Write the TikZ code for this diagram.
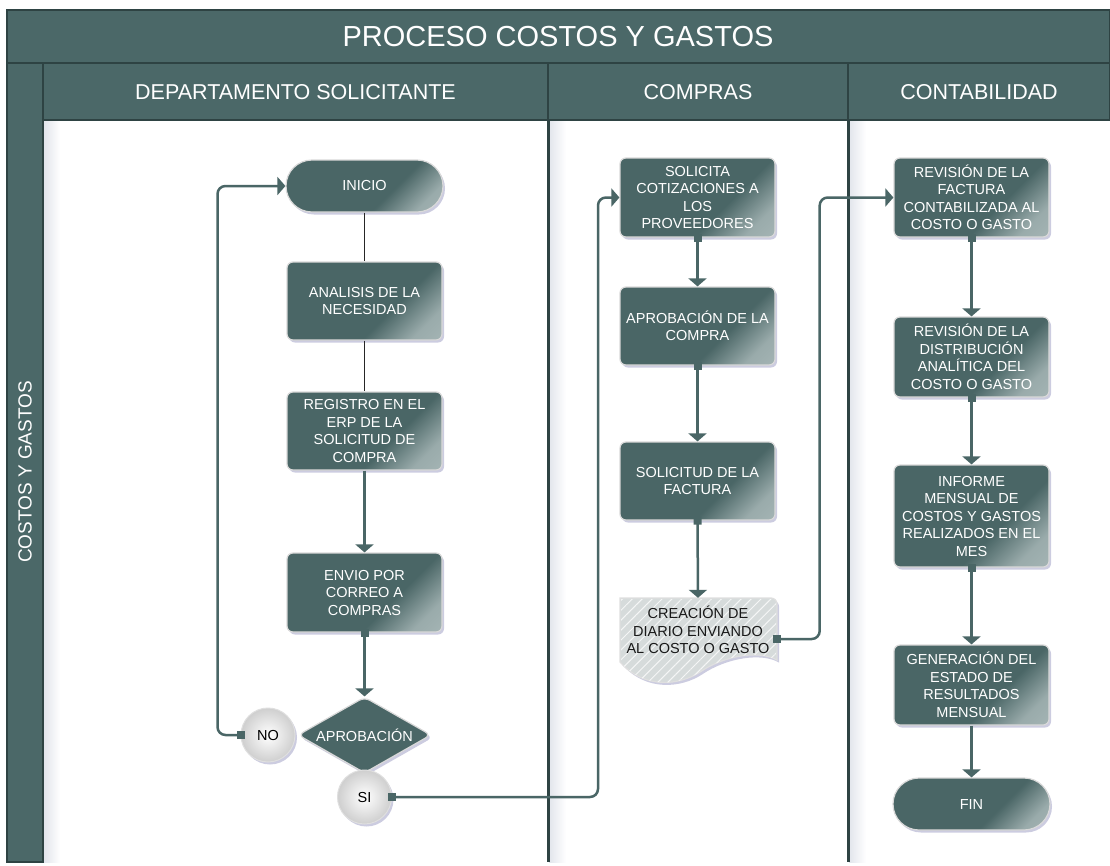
\documentclass[tikz,border=0pt]{standalone}
\usepackage{fontspec}
\setmainfont{Liberation Sans}
\usetikzlibrary{arrows.meta,shapes.geometric,shadows,patterns.meta}
\definecolor{tealc}{HTML}{4A6666}
\definecolor{tealhdr}{HTML}{4B6868}
\definecolor{darkb}{HTML}{2E4343}
\definecolor{lightc}{HTML}{B4C2C2}
\definecolor{docfill}{HTML}{D6DBDB}
\definecolor{lanesh}{HTML}{E2E5EC}
\pgfdeclareverticalshading{boxsh}{100bp}{color(0bp)=(lightc); color(24bp)=(lightc!75!tealc); color(39bp)=(tealc); color(100bp)=(tealc)}
\tikzset{
  hdrline/.style={draw=darkb, line width=1.5pt},
  hdrtext/.style={text=white, font=\fontsize{21.5}{25}\selectfont},
  softshadow/.style={drop shadow={shadow xshift=2pt, shadow yshift=-2.5pt, opacity=0.2, fill=black!60!blue}},
  box/.style={rectangle, rounded corners=6pt, minimum width=155pt, minimum height=78pt,
    inner sep=2pt, align=center, text=white, font=\fontsize{14.5}{17.5}\selectfont,
    shading=boxsh, shading angle=45, draw=gray!30, line width=1.2pt, softshadow},
  term/.style={box, rounded corners=26pt, minimum width=157pt, minimum height=52pt},
  circ/.style={circle, minimum size=54pt, inner sep=0pt, inner color=white, outer color=gray!38,
    draw=gray!25, line width=1pt, text=black, font=\fontsize{14.5}{17.5}\selectfont, softshadow},
  dia/.style={diamond, aspect=1.75, minimum width=133pt, minimum height=76pt, inner sep=0pt,
    rounded corners=6pt, fill=tealc, draw=gray!30, line width=1.2pt, text=white,
    font=\fontsize{14.5}{17.5}\selectfont, softshadow},
  docshape/.style={fill=docfill, draw=gray!25, line width=1.2pt, softshadow},
  doctext/.style={rectangle, minimum width=157pt, minimum height=64pt, inner sep=0pt, align=center,
    text=black!90, font=\fontsize{14.5}{17.5}\selectfont},
  flow/.style={draw=tealc, line width=2.5pt, rounded corners=8pt, -{Triangle[width=18pt,length=8pt]}},
  sqflow/.style={flow, {Square[length=8pt,width=8pt]}-{Triangle[width=18pt,length=8pt]}, shorten <=-4pt},
  thinlink/.style={draw=black!85, line width=1pt}
}
\begin{document}
\begin{tikzpicture}[x=1pt,y=-1pt]
\useasboundingbox (0,0) rectangle (1110,865);
\fill[white] (0,0) rectangle (1110,865);
% lane bodies
\fill[white] (43,120) rectangle (1110,862);
\shade[left color=lanesh,right color=white] (44,120) rectangle (60,862);
\shade[left color=lanesh,right color=white] (549,120) rectangle (566,862);
\shade[left color=lanesh,right color=white] (849,120) rectangle (866,862);
% title and headers
\fill[tealhdr] (7,10) rectangle (1110,120);
\fill[tealhdr] (7,63) rectangle (43,862);
\draw[hdrline] (7,10) rectangle (1110,63);
\draw[hdrline] (7,63) rectangle (43,862);
\draw[hdrline] (43,63) rectangle (548,120);
\draw[hdrline] (548,63) rectangle (848,120);
\draw[hdrline] (848,63) rectangle (1110,120);
\draw[darkb, line width=3pt] (548,120) -- (548,862);
\draw[darkb, line width=3pt] (848,120) -- (848,862);
\draw[darkb, line width=2.5pt] (43,120) -- (43,862);
\node[text=white, font=\fontsize{29}{34}\selectfont] (title) at (558,37) {PROCESO COSTOS Y GASTOS};
\node[hdrtext] (h1) at (295.5,92) {DEPARTAMENTO SOLICITANTE};
\node[hdrtext] (h2) at (698,92) {COMPRAS};
\node[hdrtext] (h3) at (979,92) {CONTABILIDAD};
\node[text=white, rotate=90, font=\fontsize{19}{22}\selectfont] (lane) at (25,472) {COSTOS Y GASTOS};

% Departamento solicitante
\node[term] (ini) at (364.5,186) {INICIO};
\node[box] (ana) at (364.5,301) {ANALISIS DE LA\\NECESIDAD};
\node[box] (reg) at (364.5,431) {REGISTRO EN EL\\ERP DE LA\\SOLICITUD DE\\COMPRA};
\node[box, minimum height=79pt] (env) at (364.5,592.5) {ENVIO POR\\CORREO A\\COMPRAS};
\node[dia] (apr) at (364.5,735) {APROBACIÓN};
\node[circ] (no) at (268,735) {NO};
\node[circ] (si) at (364.5,797) {SI};

% Compras
\node[box, minimum height=79pt] (sol) at (697.5,197.5) {SOLICITA\\COTIZACIONES A\\LOS\\PROVEEDORES};
\node[box] (apc) at (697.5,326) {APROBACIÓN DE LA\\COMPRA};
\node[box] (fac) at (697.5,481) {SOLICITUD DE LA\\FACTURA};
\path[docshape] (620,662) -- (620,598) [rounded corners=6pt] -- (777,598) [sharp corners] -- (777,660)
  .. controls (760,650) and (725,655) .. (700,672) .. controls (680,685) and (645,690) .. (620,662) -- cycle;
\path[pattern={Lines[angle=45,distance=7pt,line width=1pt]}, pattern color=white!75!docfill]
  (621,663) -- (621,599) -- (776,599) -- (776,660)
  .. controls (760,650) and (725,655) .. (700,672) .. controls (680,685) and (645,690) .. (621,663) -- cycle;
\node[doctext] (cre) at (698,630) {CREACIÓN DE\\DIARIO ENVIANDO\\AL COSTO O GASTO};

% Contabilidad
\node[box, minimum height=79pt] (rev1) at (971.5,197.5) {REVISIÓN DE LA\\FACTURA\\CONTABILIZADA AL\\COSTO O GASTO};
\node[box, minimum height=80pt] (rev2) at (971.5,357) {REVISIÓN DE LA\\DISTRIBUCIÓN\\ANALÍTICA DEL\\COSTO O GASTO};
\node[box, minimum height=102pt] (inf) at (971.5,516) {INFORME\\MENSUAL DE\\COSTOS Y GASTOS\\REALIZADOS EN EL\\MES};
\node[box, minimum height=80pt] (gen) at (971.5,685) {GENERACIÓN DEL\\ESTADO DE\\RESULTADOS\\MENSUAL};
\node[term] (fin) at (971.5,804) {FIN};

% connectors
\draw[thinlink] (ini.south) -- (ana.north);
\draw[thinlink] (ana.south) -- (reg.north);
\draw[flow] (reg.south) -- (env.north);
\draw[sqflow] (env.south) -- (apr.north);
\draw[sqflow] (no.west) -- ++(-23,0) |- (ini.west);
\draw[sqflow] (si.east) -- ++(206,0) |- (sol.west);
\draw[sqflow] (sol.south) -- (apc.north);
\draw[sqflow] (apc.south) -- (fac.north);
\draw[sqflow] (fac.south) -- (cre.north);
\draw[sqflow] ([yshift=-9pt]cre.east) -- ++(43,0) |- (rev1.west);
\draw[sqflow] (rev1.south) -- (rev2.north);
\draw[sqflow] (rev2.south) -- (inf.north);
\draw[sqflow] (inf.south) -- (gen.north);
\draw[flow] (gen.south) -- (fin.north);
\end{tikzpicture}
\end{document}
